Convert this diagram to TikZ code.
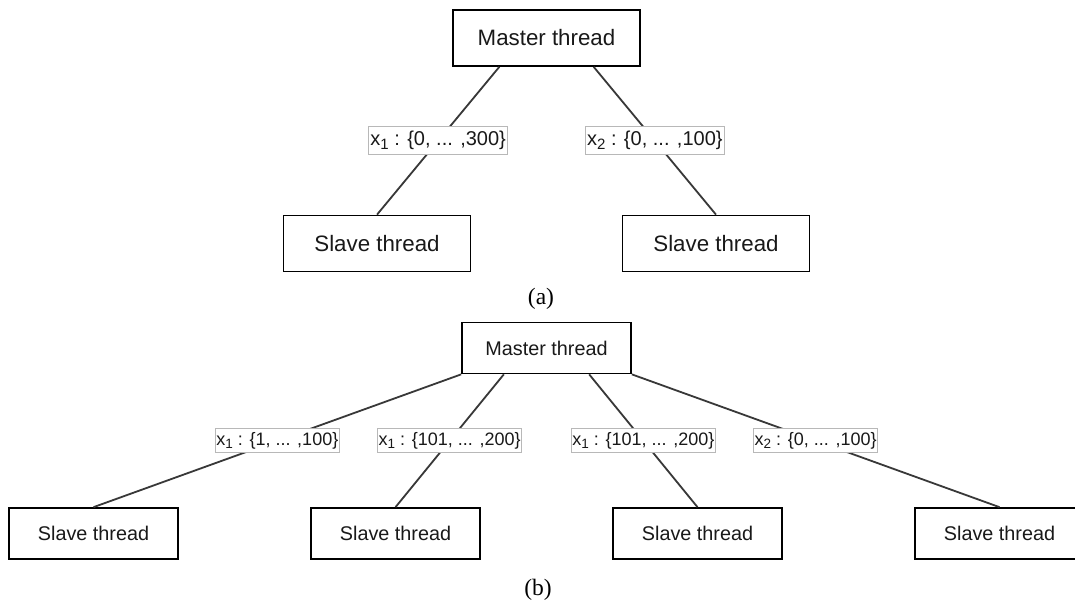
\documentclass[tikz,border=0pt]{standalone}
\usepackage{fontspec}
\setmainfont{Liberation Sans}
\newfontfamily\capfont{Liberation Serif}
\usetikzlibrary{calc}

% lowered index for the variable names in the labels
\newcommand{\idx}[1]{\raisebox{-0.35ex}{\fontsize{0.75em}{1em}\selectfont #1}}

\begin{document}
\begin{tikzpicture}[x=1pt,y=-1pt,
  box/.style={draw=black, line width=1.7pt, fill=white, inner sep=0pt, text=black!90},
  bigbox/.style={box, minimum width=187pt, minimum height=56pt, font=\fontsize{22.3}{26}\selectfont},
  smallbox/.style={box, minimum width=169pt, minimum height=51pt, font=\fontsize{19.8}{24}\selectfont},
  edge/.style={draw=black!78, line width=1.8pt},
  lbl/.style={draw=black!28, line width=0.9pt, fill=white, inner ysep=0pt, text=black!90},
  biglbl/.style={lbl, inner xsep=1.5pt, minimum height=28pt, font=\fontsize{20}{24}\selectfont},
  smalllbl/.style={lbl, inner xsep=1pt, minimum height=24pt, font=\fontsize{18}{22}\selectfont},
  caption/.style={font=\capfont\fontsize{23.5}{27}\selectfont}
]
\fill[white] (0,0) rectangle (1075,608);
\useasboundingbox (0,0) rectangle (1075,608);

% ---------- (a): two slaves ----------
\node[bigbox] (mA)  at (546.5,38)   {Master thread};
\node[bigbox] (sA1) at (377,243.5)  {Slave thread};
\node[bigbox] (sA2) at (716,243.5)  {Slave thread};

\draw[edge] ($(mA.south west)!0.25!(mA.south east)$) --
  node[biglbl] (lA1) {x\idx{1} : \{0, ... ,300\}} (sA1.north);
\draw[edge] ($(mA.south west)!0.75!(mA.south east)$) --
  node[biglbl] (lA2) {x\idx{2} : \{0, ... ,100\}} (sA2.north);

\node[caption] (capA) at (541,299) {(a)};

% ---------- (b): four slaves ----------
\node[smallbox] (mB)  at (546.5,348)  {Master thread};
\node[smallbox] (sB1) at (93.5,533.5) {Slave thread};
\node[smallbox] (sB2) at (395.5,533.5) {Slave thread};
\node[smallbox] (sB3) at (697.5,533.5) {Slave thread};
\node[smallbox] (sB4) at (999.5,533.5) {Slave thread};

\draw[edge] (mB.south west) --
  node[smalllbl] (lB1) {x\idx{1} : \{1, ... ,100\}} (sB1.north);
\draw[edge] ($(mB.south west)!0.25!(mB.south east)$) --
  node[smalllbl] (lB2) {x\idx{1} : \{101, ... ,200\}} (sB2.north);
\draw[edge] ($(mB.south west)!0.75!(mB.south east)$) --
  node[smalllbl] (lB3) {x\idx{1} : \{101, ... ,200\}} (sB3.north);
\draw[edge] (mB.south east) --
  node[smalllbl] (lB4) {x\idx{2} : \{0, ... ,100\}} (sB4.north);

\node[caption] (capB) at (538,590) {(b)};
\end{tikzpicture}
\end{document}
